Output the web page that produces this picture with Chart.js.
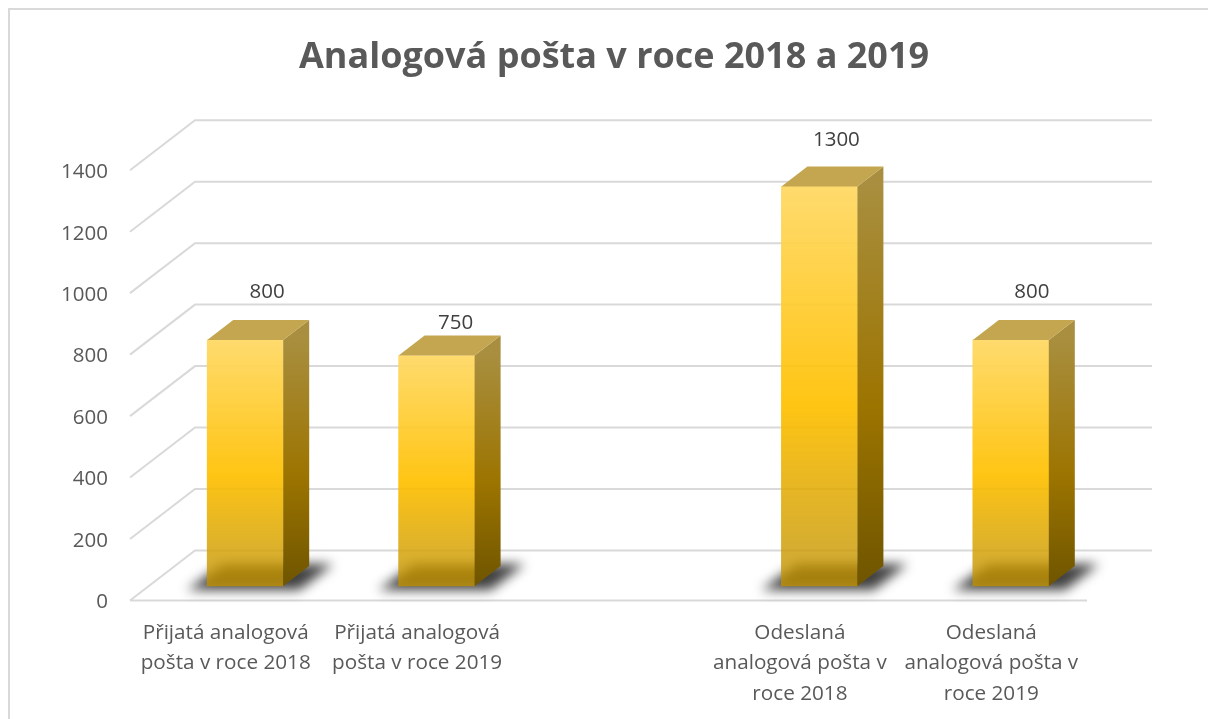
<!DOCTYPE html>
<html lang="cs">
<head>
  <meta charset="UTF-8" />
  <title>Analogová pošta v roce 2018 a 2019</title>
  <script src="https://cdn.jsdelivr.net/npm/chart.js"></script>
  <style>
    body { margin: 0; background: #fff; }
    #wrap { position: relative; width: 1208px; height: 719px; overflow: hidden; }
    #frame { position: absolute; left: 8px; top: 8px; width: 1300px; height: 800px;
             border-left: 2px solid #d9d9d9; border-top: 2px solid #d9d9d9; }
    canvas { position: absolute; left: 0; top: 0; }
  </style>
</head>
<body>
  <div id="wrap">
    <div id="frame"></div>
    <canvas id="mailChart" width="1208" height="719"></canvas>
  </div>

  <script>
    const chartTitle = 'Analogová pošta v roce 2018 a 2019';
    const categories = [
      ['Přijatá analogová', 'pošta v roce 2018'],
      ['Přijatá analogová', 'pošta v roce 2019'],
      '',
      ['Odeslaná', 'analogová pošta v', 'roce 2018'],
      ['Odeslaná', 'analogová pošta v', 'roce 2019']
    ];
    const mailValues = [800, 750, null, 1300, 800];
    const yMax = 1400;
    const yStep = 200;

    // 3D look: wall depth, and where the bars sit on the floor
    const WALL_DX = 65;
    const WALL_DY = 50;
    const BAR_SHIFT_X = 19.5;
    const BAR_LIFT = 14.5;
    const BAR_DX = 26;
    const BAR_DY = 20;
    const LABEL_GAP = [28, 12, 0, 26, 28];
    const LABEL_NUDGE = [2, -1, 0, -3, 1];
    const GRID = '#d9d9d9';

    const faceGradient = (ctx, top, bottom, stops) => {
      const g = ctx.createLinearGradient(0, top, 0, bottom);
      stops.forEach(s => g.addColorStop(s[0], s[1]));
      return g;
    };

    const FRONT_STOPS = [[0, 'rgba(255,217,102,0.95)'], [0.55, 'rgba(255,192,0,0.92)'], [1, 'rgba(191,144,0,0.78)']];
    const SIDE_STOPS = [[0, '#a88e3e'], [0.55, '#9c7400'], [1, '#6f5500']];

    const floorAndWalls = {
      id: 'floorAndWalls',
      afterDatasetsUpdate(chart) {
        // move the bars back from the front edge of the floor
        chart.getDatasetMeta(0).data.forEach(bar => {
          bar.x += BAR_SHIFT_X;
          bar.y -= BAR_LIFT;
          bar.base -= BAR_LIFT;
        });
      },
      beforeDatasetsDraw(chart) {
        const { ctx, scales: { x, y } } = chart;
        ctx.save();
        ctx.strokeStyle = GRID;
        ctx.lineWidth = 2;
        y.ticks.forEach(t => {
          const py = y.getPixelForValue(t.value);
          ctx.beginPath();
          ctx.moveTo(x.left, py);
          ctx.lineTo(x.left + WALL_DX, py - WALL_DY);
          ctx.lineTo(x.right + WALL_DX, py - WALL_DY);
          ctx.stroke();
        });
        ctx.beginPath();
        ctx.moveTo(x.left, y.bottom);
        ctx.lineTo(x.right, y.bottom);
        ctx.stroke();

        // soft shadows on the floor
        ctx.filter = 'blur(6px)';
        ctx.fillStyle = 'rgba(0,0,0,0.75)';
        chart.getDatasetMeta(0).data.forEach((bar, i) => {
          if (mailValues[i] === null) return;
          const l = bar.x - bar.width / 2;
          const r = bar.x + bar.width / 2;
          ctx.beginPath();
          ctx.moveTo(l - 20, bar.base + 4);
          ctx.lineTo(l + 16, bar.base - 22);
          ctx.lineTo(r + 50, bar.base - 22);
          ctx.lineTo(r + 16, bar.base + 4);
          ctx.closePath();
          ctx.fill();
        });
        ctx.restore();
      },
      afterDatasetsDraw(chart) {
        const { ctx } = chart;
        ctx.save();
        chart.getDatasetMeta(0).data.forEach((bar, i) => {
          if (mailValues[i] === null) return;
          const l = bar.x - bar.width / 2;
          const r = bar.x + bar.width / 2;

          // right side
          ctx.fillStyle = faceGradient(ctx, bar.y, bar.base, SIDE_STOPS);
          ctx.beginPath();
          ctx.moveTo(r, bar.y);
          ctx.lineTo(r + BAR_DX, bar.y - BAR_DY);
          ctx.lineTo(r + BAR_DX, bar.base - BAR_DY);
          ctx.lineTo(r, bar.base);
          ctx.closePath();
          ctx.fill();

          // top
          ctx.fillStyle = '#c4a650';
          ctx.beginPath();
          ctx.moveTo(l, bar.y);
          ctx.lineTo(l + BAR_DX, bar.y - BAR_DY);
          ctx.lineTo(r + BAR_DX, bar.y - BAR_DY);
          ctx.lineTo(r, bar.y);
          ctx.closePath();
          ctx.fill();

          // value label
          ctx.fillStyle = '#404040';
          ctx.font = '20.5px "Open Sans"';
          ctx.textAlign = 'center';
          ctx.textBaseline = 'middle';
          ctx.fillText(mailValues[i], bar.x + BAR_DX / 2 + 7 + LABEL_NUDGE[i], bar.y - BAR_DY - LABEL_GAP[i]);
        });
        ctx.restore();
      }
    };

    new Chart(document.getElementById('mailChart'), {
      type: 'bar',
      plugins: [floorAndWalls],
      data: {
        labels: categories,
        datasets: [{
          data: mailValues,
          barThickness: 76,
          backgroundColor: (c) => {
            const { chart, dataIndex } = c;
            if (!chart.chartArea || mailValues[dataIndex] === null) return '#ffc000';
            const y = chart.scales.y;
            return faceGradient(chart.ctx,
              y.getPixelForValue(mailValues[dataIndex]) - BAR_LIFT,
              y.getPixelForValue(0) - BAR_LIFT,
              FRONT_STOPS);
          }
        }]
      },
      options: {
        responsive: false,
        animation: false,
        layout: { padding: { top: 36, left: 20, right: 0, bottom: 0 } },
        plugins: {
          legend: { display: false },
          tooltip: { enabled: false },
          title: {
            display: true,
            text: chartTitle,
            color: '#595959',
            font: { family: '"Open Sans"', size: 36, weight: 'bold', lineHeight: 1.2 },
            padding: { top: 0, bottom: 91 }
          }
        },
        scales: {
          x: {
            grid: { display: false },
            border: { display: false },
            ticks: {
              color: '#595959',
              font: { family: '"Open Sans"', size: 20.7, lineHeight: 1.475 },
              padding: 9,
              maxRotation: 0,
              autoSkip: false
            },
            afterFit(s) { s.height = 118.5; s.paddingLeft = 0; s.paddingRight = 0; }
          },
          y: {
            min: 0,
            max: yMax,
            grid: { display: false },
            border: { display: false },
            ticks: {
              stepSize: yStep,
              color: '#595959',
              font: { family: '"Open Sans"', size: 20.5 },
              padding: 14,
              labelOffset: 2,
              callback: v => String(v)
            },
            afterFit(s) { s.width = 110; s.paddingTop = 0; s.paddingBottom = 0; }
          },
          // empty axis, only keeps the plot clear of the right edge
          spacer: {
            position: 'right',
            min: 0,
            max: 1,
            grid: { display: false },
            border: { display: false },
            ticks: { display: false },
            afterFit(s) { s.width = 121; s.paddingTop = 0; s.paddingBottom = 0; }
          }
        }
      }
    });
  </script>
</body>
</html>
